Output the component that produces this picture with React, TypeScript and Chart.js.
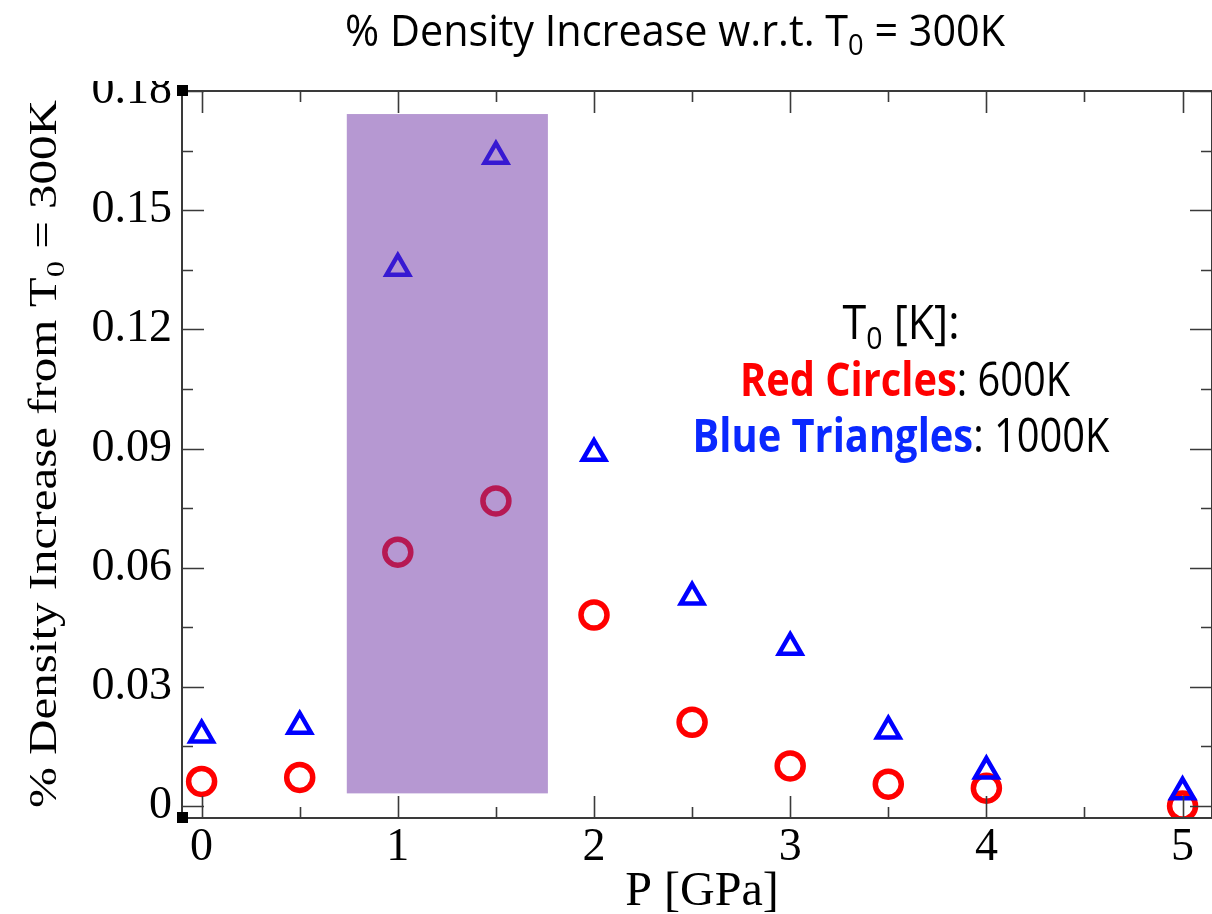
import React, { useEffect, useRef } from 'react';
import { Chart, registerables } from 'chart.js';

Chart.register(...registerables);

// ---- data ----
const pressures = [0, 0.5, 1, 1.5, 2, 2.5, 3, 3.5, 4, 5];
const redCircles600K = [0.0062, 0.0072, 0.0639, 0.0768, 0.0481, 0.0211, 0.0101, 0.0055, 0.0045, 0.0];
const blueTriangles1000K = [0.0179, 0.0201, 0.1354, 0.1636, 0.0888, 0.0526, 0.04, 0.0189, 0.0088, 0.0036];

const xMajorTicks = [0, 1, 2, 3, 4, 5];
const xMinorTicks = [0.5, 1.5, 2.5, 3.5, 4.5];
const yMajorTicks = [0, 0.03, 0.06, 0.09, 0.12, 0.15, 0.18];
const yMinorTicks = [0.015, 0.045, 0.075, 0.105, 0.135, 0.165];

const highlightP = [0.74, 1.765];
const highlightDensity = [0.0032, 0.1742];

const SERIF = '"Liberation Serif", "Times New Roman", serif';
const SANS = '"Open Sans", "Noto Sans", sans-serif';

type Seg = { t: string; font: string; color: string; dy?: number };

function drawRich(
  ctx: CanvasRenderingContext2D,
  segs: Seg[],
  cx: number,
  baseline: number,
  targetW: number,
  rotate = false
) {
  ctx.save();
  let total = 0;
  const widths = segs.map((s) => {
    ctx.font = s.font;
    const w = ctx.measureText(s.t).width;
    total += w;
    return w;
  });
  const sx = targetW > 0 ? targetW / total : 1;
  ctx.translate(cx, baseline);
  if (rotate) ctx.rotate(-Math.PI / 2);
  ctx.scale(sx, 1);
  ctx.textAlign = 'left';
  ctx.textBaseline = 'alphabetic';
  let x = -total / 2;
  segs.forEach((s, i) => {
    ctx.font = s.font;
    ctx.fillStyle = s.color;
    ctx.fillText(s.t, x, s.dy || 0);
    x += widths[i];
  });
  ctx.restore();
}

const framePlugin = {
  id: 'framePlugin',
  afterDatasetsDraw(chart: any) {
    const { ctx, chartArea: a, scales } = chart;
    const xs = scales.x;
    const ys = scales.y;
    ctx.save();
    // translucent purple highlight band
    const x0 = xs.getPixelForValue(highlightP[0]);
    const x1 = xs.getPixelForValue(highlightP[1]);
    const y0 = ys.getPixelForValue(highlightDensity[1]);
    const y1 = ys.getPixelForValue(highlightDensity[0]);
    ctx.fillStyle = 'rgba(110,50,165,0.5)';
    ctx.fillRect(x0, y0, x1 - x0, y1 - y0);

    // frame
    ctx.strokeStyle = '#3a3a3a';
    ctx.lineWidth = 2;
    ctx.strokeRect(a.left, a.top, a.right - a.left, a.bottom - a.top);

    const major = 22;
    const minor = 11;
    ctx.beginPath();
    const vt = (v: number, len: number) => {
      const px = Math.round(xs.getPixelForValue(v)) + 0.5;
      ctx.moveTo(px, a.bottom);
      ctx.lineTo(px, a.bottom - len);
      ctx.moveTo(px, a.top);
      ctx.lineTo(px, a.top + len);
    };
    const ht = (v: number, len: number) => {
      const py = Math.round(ys.getPixelForValue(v)) + 0.5;
      ctx.moveTo(a.left, py);
      ctx.lineTo(a.left + len, py);
      ctx.moveTo(a.right, py);
      ctx.lineTo(a.right - len, py);
    };
    xMajorTicks.forEach((v) => vt(v, major));
    xMinorTicks.forEach((v) => vt(v, minor));
    yMajorTicks.forEach((v) => ht(v, major));
    yMinorTicks.forEach((v) => ht(v, minor));
    ctx.lineWidth = 1.6;
    ctx.stroke();

    // corner handles
    ctx.fillStyle = '#000';
    ctx.fillRect(a.left - 5, a.top - 6, 11, 11);
    ctx.fillRect(a.left - 5, a.bottom - 6, 11, 11);
    ctx.restore();
  },
  afterDraw(chart: any) {
    const { ctx } = chart;
    ctx.save();
    // title band covers the very top of the plot image
    ctx.fillStyle = '#fff';
    ctx.fillRect(0, 0, chart.width, 81);
    ctx.restore();

    // title
    drawRich(
      ctx,
      [
        { t: '% Density Increase w.r.t. T', font: `44px ${SANS}`, color: '#000' },
        { t: '0', font: `29px ${SANS}`, color: '#000', dy: 9 },
        { t: ' = 300K', font: `44px ${SANS}`, color: '#000' },
      ],
      675,
      46,
      660
    );

    // annotation
    drawRich(
      ctx,
      [
        { t: 'T', font: `47px ${SANS}`, color: '#000' },
        { t: '0', font: `31px ${SANS}`, color: '#000', dy: 10 },
        { t: ' [K]:', font: `47px ${SANS}`, color: '#000' },
      ],
      901,
      339,
      117
    );
    drawRich(
      ctx,
      [
        { t: 'Red Circles', font: `bold 47px ${SANS}`, color: '#ff0000' },
        { t: ': 600K', font: `47px ${SANS}`, color: '#000' },
      ],
      905,
      396,
      330
    );
    drawRich(
      ctx,
      [
        { t: 'Blue Triangles', font: `bold 47px ${SANS}`, color: '#0a28ff' },
        { t: ': 1000K', font: `47px ${SANS}`, color: '#000' },
      ],
      901,
      452,
      417
    );

    // x axis title
    drawRich(ctx, [{ t: 'P [GPa]', font: `48px ${SERIF}`, color: '#000' }], 702, 905, 0);

    // y axis title (rotated)
    drawRich(
      ctx,
      [
        { t: '% Density Increase from T', font: `39px ${SERIF}`, color: '#000' },
        { t: '0', font: `26px ${SERIF}`, color: '#000', dy: 8 },
        { t: ' = 300K', font: `39px ${SERIF}`, color: '#000' },
      ],
      56,
      454,
      708,
      true
    );
  },
};

export default function App() {
  const ref = useRef<HTMLCanvasElement | null>(null);

  useEffect(() => {
    document.body.style.margin = '0';
    const canvas = ref.current;
    if (!canvas) return;
    const chart = new Chart(canvas, {
      type: 'scatter',
      data: {
        datasets: [
          {
            label: 'Red Circles: 600K',
            data: pressures.map((p, i) => ({ x: p, y: redCircles600K[i] })),
            pointStyle: 'circle',
            pointRadius: 13,
            pointBorderWidth: 5.5,
            borderColor: '#ff0000',
            backgroundColor: 'rgba(0,0,0,0)',
            order: 2,
          },
          {
            label: 'Blue Triangles: 1000K',
            data: pressures.map((p, i) => ({ x: p, y: blueTriangles1000K[i] })),
            pointStyle: 'triangle',
            pointRadius: 13,
            pointBorderWidth: 4.5,
            borderColor: '#0000ff',
            backgroundColor: 'rgba(0,0,0,0)',
            order: 1,
          },
        ],
      },
      options: {
        animation: false,
        responsive: false,
        devicePixelRatio: 1,
        layout: { autoPadding: false, padding: { top: 91, left: 0, right: 0, bottom: 0 } },
        plugins: {
          legend: { display: false },
          tooltip: { enabled: false },
          title: { display: false },
        },
        scales: {
          x: {
            type: 'linear',
            min: -0.1,
            max: 5.15,
            grid: { display: false, drawTicks: false },
            border: { display: false },
            afterBuildTicks: (s: any) => {
              s.ticks = xMajorTicks.map((v) => ({ value: v }));
            },
            afterFit: (s: any) => {
              s.height = 96;
              s.paddingLeft = 0;
              s.paddingRight = 0;
            },
            ticks: {
              autoSkip: false,
              maxRotation: 0,
              padding: 2,
              color: '#000',
              font: { family: SERIF, size: 46 },
              callback: (v: any) => String(v),
            },
          },
          y: {
            type: 'linear',
            min: -0.003,
            max: 0.18,
            grid: { display: false, drawTicks: false },
            border: { display: false },
            afterBuildTicks: (s: any) => {
              s.ticks = yMajorTicks.map((v) => ({ value: v }));
            },
            afterFit: (s: any) => {
              s.width = 182;
              s.paddingTop = 0;
              s.paddingBottom = 0;
            },
            ticks: {
              autoSkip: false,
              padding: 10,
              color: '#000',
              font: { family: SERIF, size: 46 },
              callback: (v: any) => (v === 0 ? '0' : Number(v).toFixed(2)),
            },
          },
        },
      },
      plugins: [framePlugin],
    } as any);
    return () => chart.destroy();
  }, []);

  return (
    <div style={{ width: 1212, height: 914 }}>
      <canvas ref={ref} width={1212} height={914} style={{ display: 'block' }} />
    </div>
  );
}
